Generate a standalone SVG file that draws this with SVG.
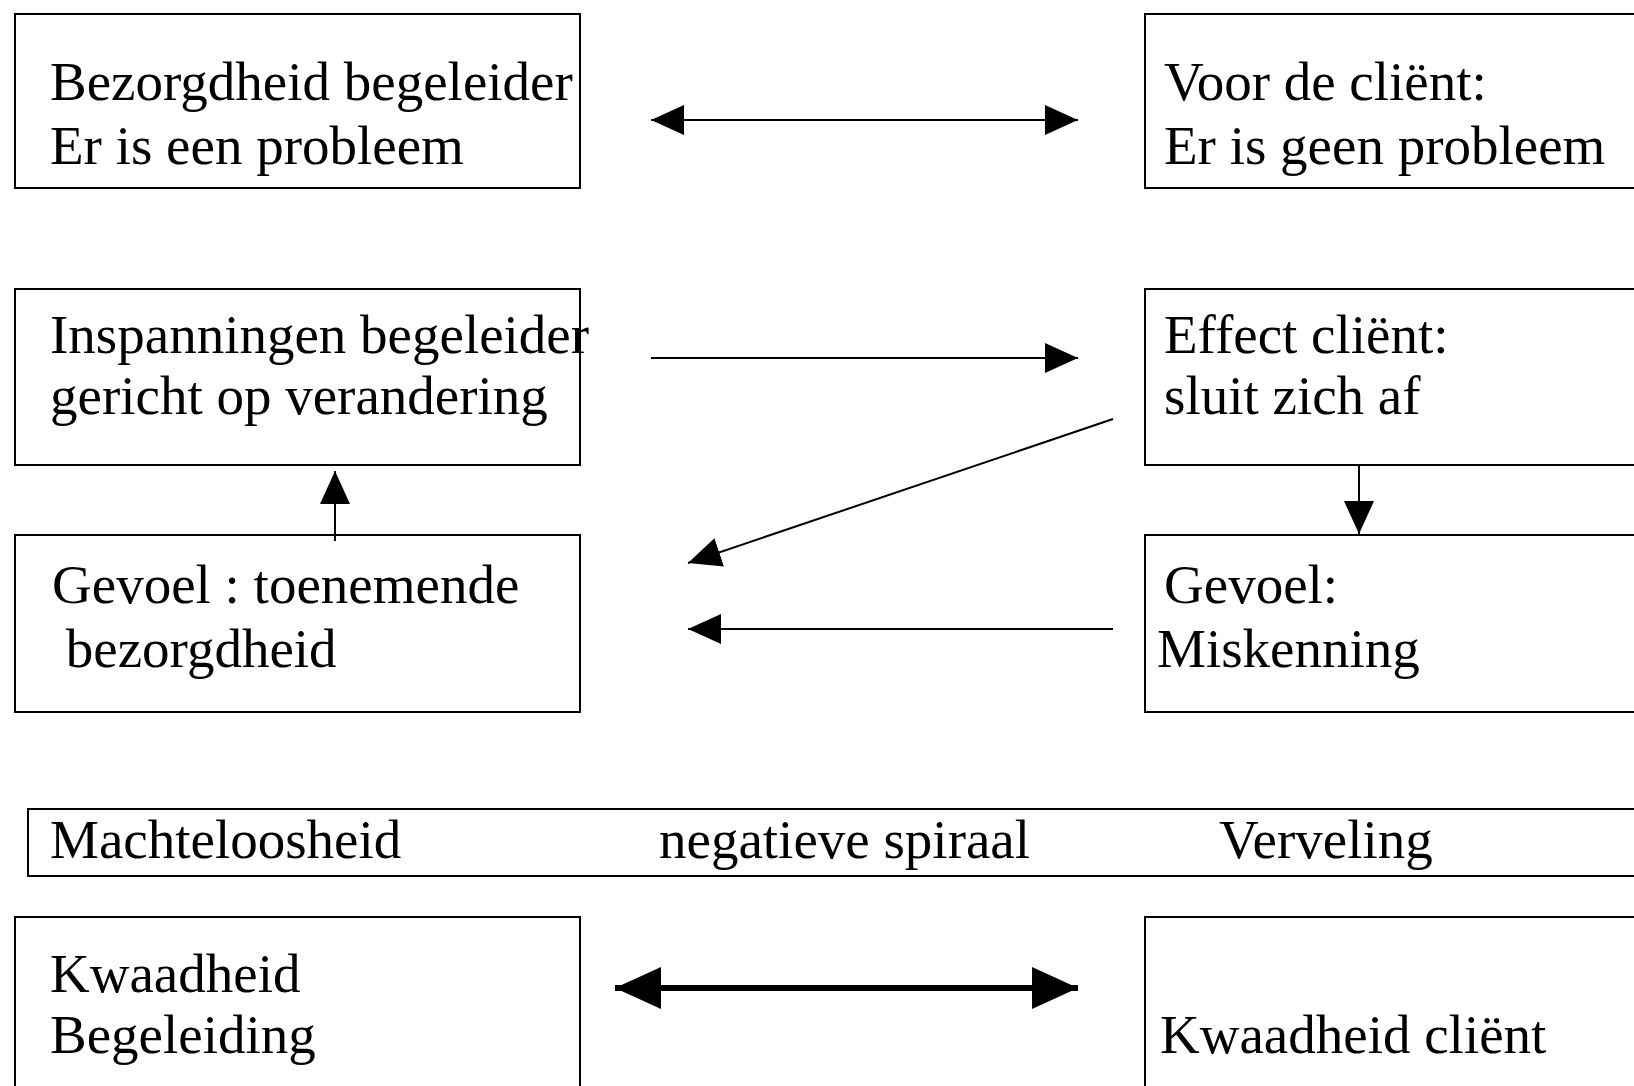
<svg xmlns="http://www.w3.org/2000/svg" width="1634" height="1086" viewBox="0 0 1634 1086">
<style>
.box{fill:#fff;stroke:#000;stroke-width:2}
.t{font-family:"Liberation Serif","Times New Roman",serif;font-size:55px;fill:#000}
.c{stroke:#000;stroke-width:2;fill:none}
.ct{stroke:#000;stroke-width:6;fill:none}
</style>
<defs>
<marker id="ah" markerUnits="userSpaceOnUse" markerWidth="34" markerHeight="30" refX="33" refY="15" orient="auto-start-reverse" viewBox="0 0 34 30">
<path d="M0,0 L33,15 L0,30 z" fill="#000"/>
</marker>
<marker id="ahb" markerUnits="userSpaceOnUse" markerWidth="47" markerHeight="42" refX="46" refY="21" orient="auto-start-reverse" viewBox="0 0 47 42">
<path d="M0,0 L46,21 L0,42 z" fill="#000"/>
</marker>
</defs>
<rect width="1634" height="1086" fill="#fff"/>
<g id="n1"><rect class="box" x="15" y="14" width="565" height="174"/>
<text class="t" x="50" y="100">Bezorgdheid begeleider</text>
<text class="t" x="50" y="164">Er is een probleem</text></g>
<g id="n2"><rect class="box" x="1145" y="14" width="600" height="174"/>
<text class="t" x="1164" y="100">Voor de cliënt:</text>
<text class="t" x="1164" y="164">Er is geen probleem</text></g>
<g id="n3"><rect class="box" x="15" y="289" width="565" height="176"/>
<text class="t" x="50" y="353">Inspanningen begeleider</text>
<text class="t" x="50" y="414">gericht op verandering</text></g>
<g id="n4"><rect class="box" x="1145" y="289" width="600" height="176"/>
<text class="t" x="1164" y="353">Effect cliënt:</text>
<text class="t" x="1164" y="414">sluit zich af</text></g>
<g id="n5"><rect class="box" x="15" y="535" width="565" height="177"/>
<text class="t" x="52" y="603">Gevoel : toenemende</text>
<text class="t" x="52" y="667" xml:space="preserve"> bezorgdheid</text></g>
<g id="n6"><rect class="box" x="1145" y="535" width="600" height="177"/>
<text class="t" x="1164" y="603">Gevoel:</text>
<text class="t" x="1157" y="667">Miskenning</text></g>
<g id="n7"><rect class="box" x="28" y="809" width="1700" height="67"/>
<text class="t" x="50" y="858">Machteloosheid</text>
<text class="t" x="659" y="858">negatieve spiraal</text>
<text class="t" x="1219" y="858">Verveling</text></g>
<g id="n8"><rect class="box" x="15" y="917" width="565" height="200"/>
<text class="t" x="50" y="992">Kwaadheid</text>
<text class="t" x="50" y="1053">Begeleiding</text></g>
<g id="n9"><rect class="box" x="1145" y="917" width="600" height="200"/>
<text class="t" x="1160" y="1053">Kwaadheid cliënt</text></g>
<g id="connectors">
<line class="c" x1="651" y1="120" x2="1078" y2="120" marker-start="url(#ah)" marker-end="url(#ah)"/>
<line class="c" x1="651" y1="358" x2="1078" y2="358" marker-end="url(#ah)"/>
<line class="c" x1="1113" y1="419" x2="688" y2="563" marker-end="url(#ah)"/>
<line class="c" x1="1113" y1="629" x2="688" y2="629" marker-end="url(#ah)"/>
<line class="c" x1="335" y1="541" x2="335" y2="471" marker-end="url(#ah)"/>
<line class="c" x1="1359" y1="466" x2="1359" y2="534" marker-end="url(#ah)"/>
<line class="ct" x1="615" y1="988" x2="1078" y2="988" marker-start="url(#ahb)" marker-end="url(#ahb)"/>
</g>
</svg>
